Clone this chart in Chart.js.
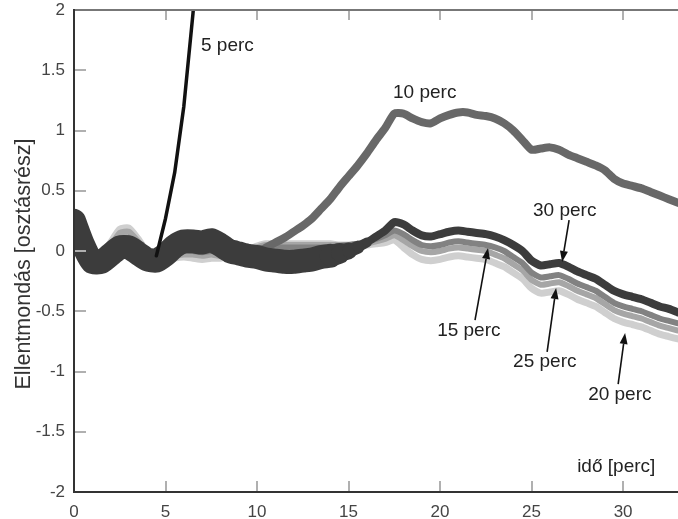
<!DOCTYPE html>
<html>
<head>
<meta charset="utf-8">
<script src="https://cdn.jsdelivr.net/npm/chart.js@4.4.1/dist/chart.umd.min.js"></script>
<style>
html,body{margin:0;padding:0;background:#fff;}
#wrap{width:678px;height:519px;position:relative;}
</style>
</head>
<body>
<div id="wrap"><canvas id="c" width="678" height="519"></canvas></div>
<script>
// time axis (perc)
const times = [0,0.5,1,1.5,2,2.5,3,3.5,4,4.5,5,5.5,6,6.5,7,7.5,8,8.5,9,9.5,10,10.5,11,11.5,12,12.5,13,13.5,14,14.5,15,15.5,16,16.5,17,17.5,18,18.5,19,19.5,20,20.5,21,21.5,22,22.5,23,23.5,24,24.5,25,25.5,26,26.5,27,27.5,28,28.5,29,29.5,30,30.5,31,31.5,32,32.5,33];

const perc30 = [0.25,0.05,-0.09,-0.09,-0.03,0.03,0.03,-0.02,-0.07,-0.08,-0.03,0.04,0.08,0.08,0.07,0.09,0.05,0.0,-0.02,-0.04,-0.05,-0.07,-0.08,-0.09,-0.09,-0.08,-0.07,-0.05,-0.04,-0.02,0.0,0.03,0.07,0.12,0.17,0.24,0.22,0.17,0.13,0.12,0.14,0.16,0.17,0.16,0.15,0.14,0.12,0.09,0.05,0.0,-0.08,-0.12,-0.11,-0.1,-0.13,-0.17,-0.2,-0.23,-0.28,-0.33,-0.36,-0.38,-0.4,-0.43,-0.46,-0.48,-0.51];

const perc15 = [0.27,0.07,-0.07,-0.07,0.0,0.1,0.11,0.04,-0.04,-0.07,-0.05,-0.02,0.0,0.0,-0.01,0.0,-0.01,-0.02,-0.02,-0.01,0.02,0.03,0.03,0.03,0.03,0.03,0.03,0.03,0.03,0.04,0.05,0.06,0.08,0.1,0.13,0.17,0.14,0.09,0.05,0.04,0.05,0.07,0.08,0.07,0.06,0.05,0.03,0.0,-0.05,-0.1,-0.18,-0.22,-0.21,-0.2,-0.23,-0.27,-0.3,-0.33,-0.38,-0.43,-0.46,-0.48,-0.5,-0.53,-0.56,-0.58,-0.6];

const perc25 = [0.26,0.09,-0.05,-0.05,0.04,0.15,0.16,0.08,-0.02,-0.08,-0.07,-0.04,-0.03,-0.03,-0.04,-0.03,-0.04,-0.03,-0.02,0.0,0.03,0.05,0.05,0.05,0.05,0.05,0.05,0.05,0.05,0.05,0.05,0.05,0.06,0.08,0.1,0.13,0.09,0.04,0.0,-0.01,0.0,0.02,0.03,0.02,0.01,0.0,-0.03,-0.06,-0.11,-0.16,-0.24,-0.28,-0.27,-0.26,-0.29,-0.33,-0.36,-0.39,-0.44,-0.49,-0.52,-0.54,-0.56,-0.59,-0.62,-0.64,-0.66];

const perc20 = [0.25,0.11,-0.03,-0.03,0.07,0.18,0.19,0.1,-0.01,-0.09,-0.09,-0.06,-0.05,-0.06,-0.07,-0.06,-0.06,-0.04,-0.02,0.01,0.04,0.06,0.06,0.06,0.06,0.06,0.06,0.06,0.06,0.05,0.05,0.05,0.05,0.06,0.07,0.09,0.03,-0.03,-0.07,-0.08,-0.07,-0.05,-0.04,-0.05,-0.06,-0.07,-0.1,-0.13,-0.18,-0.23,-0.31,-0.35,-0.34,-0.33,-0.36,-0.4,-0.43,-0.46,-0.51,-0.56,-0.59,-0.61,-0.63,-0.66,-0.69,-0.71,-0.73];

const perc10 = [0.25,0.05,-0.09,-0.09,-0.03,0.03,0.03,-0.02,-0.07,-0.08,-0.03,0.04,0.08,0.08,0.07,0.09,0.05,0.0,-0.02,-0.04,-0.03,0.03,0.07,0.11,0.16,0.21,0.27,0.35,0.43,0.53,0.62,0.71,0.81,0.92,1.02,1.14,1.14,1.1,1.07,1.06,1.1,1.13,1.15,1.15,1.13,1.12,1.1,1.06,1.0,0.92,0.84,0.85,0.86,0.84,0.8,0.77,0.74,0.71,0.67,0.6,0.56,0.54,0.52,0.49,0.46,0.43,0.4];

const perc5 = [null,null,null,null,null,null,null,null,null,-0.04,0.27,0.65,1.2,1.97,2.9,null,null,null,null,null,null,null,null,null,null,null,null,null,null,null,null,null,null,null,null,null,null,null,null,null,null,null,null,null,null,null,null,null,null,null,null,null,null,null,null,null,null,null,null,null,null,null,null,null,null,null,null];

const xTicks = [0,5,10,15,20,25,30];
const yTicks = [-2,-1.5,-1,-0.5,0,0.5,1,1.5,2];

const notes = [
  {text:'5 perc',  x:6.94,  y:1.66},
  {text:'10 perc', x:17.43, y:1.266},
  {text:'30 perc', x:25.08, y:0.29,   from:[27.05,0.257],  to:[26.67,-0.091]},
  {text:'15 perc', x:19.84, y:-0.705, from:[21.91,-0.573], to:[22.62,0.025]},
  {text:'25 perc', x:23.99, y:-0.963, from:[25.85,-0.838], to:[26.34,-0.307]},
  {text:'20 perc', x:28.09, y:-1.237, from:[29.73,-1.104], to:[30.11,-0.68]},
  {text:'idő [perc]', x:27.49, y:-1.834}
];
const yTitle = 'Ellentmondás [osztásrész]';

const pts = arr => times.map((t,i)=>({x:t,y:arr[i]}));
const FONT = '"Liberation Sans", Arial, sans-serif';

// width of the noisy dark band: wide while all runs overlap, narrowing after ~14 perc
const bandWidth = t => t < 14 ? 24 : t < 14.5 ? 21 : t < 15 ? 17 : t < 15.5 ? 13 : t < 16 ? 10 : 8;

const framePlugin = {
  id:'frame',
  afterDatasetsDraw(chart){
    const {ctx, chartArea:a, scales:{x,y}} = chart;
    ctx.save();
    ctx.strokeStyle = '#b0b0b0';
    ctx.lineWidth = 2;
    xTicks.forEach(v=>{
      const px = Math.round(x.getPixelForValue(v));
      if (v===0) return;
      ctx.beginPath(); ctx.moveTo(px,a.bottom); ctx.lineTo(px,a.bottom-11); ctx.stroke();
      ctx.beginPath(); ctx.moveTo(px,a.top); ctx.lineTo(px,a.top+10); ctx.stroke();
    });
    yTicks.forEach(v=>{
      const py = Math.round(y.getPixelForValue(v));
      if (v===-2 || v===2) return;
      ctx.beginPath(); ctx.moveTo(a.left,py); ctx.lineTo(a.left+12,py); ctx.stroke();
    });
    ctx.lineWidth = 2;
    ctx.strokeStyle = '#777';
    ctx.beginPath(); ctx.moveTo(a.left,a.top); ctx.lineTo(a.right,a.top); ctx.stroke();
    ctx.strokeStyle = '#333';
    ctx.beginPath(); ctx.moveTo(a.left,a.top-1); ctx.lineTo(a.left,a.bottom); ctx.lineTo(a.right,a.bottom); ctx.stroke();
    ctx.fillStyle = '#222';
    ctx.strokeStyle = '#111';
    ctx.font = '19px ' + FONT;
    ctx.textBaseline = 'alphabetic';
    ctx.textAlign = 'left';
    notes.forEach(n=>{
      ctx.fillText(n.text, x.getPixelForValue(n.x), y.getPixelForValue(n.y));
      if (n.from){
        const x0 = x.getPixelForValue(n.from[0]), y0 = y.getPixelForValue(n.from[1]);
        const x1 = x.getPixelForValue(n.to[0]),   y1 = y.getPixelForValue(n.to[1]);
        const ang = Math.atan2(y1-y0, x1-x0);
        const hl = 11, hw = 4;
        const bx = x1 - hl*Math.cos(ang), by = y1 - hl*Math.sin(ang);
        ctx.lineWidth = 1.6;
        ctx.beginPath(); ctx.moveTo(x0,y0); ctx.lineTo(bx,by); ctx.stroke();
        ctx.beginPath();
        ctx.moveTo(x1,y1);
        ctx.lineTo(bx + hw*Math.sin(ang), by - hw*Math.cos(ang));
        ctx.lineTo(bx - hw*Math.sin(ang), by + hw*Math.cos(ang));
        ctx.closePath(); ctx.fillStyle='#111'; ctx.fill();
        ctx.fillStyle = '#222';
      }
    });
    ctx.save();
    ctx.translate(24, (a.top+a.bottom)/2 + 13);
    ctx.rotate(-Math.PI/2);
    ctx.textAlign = 'center';
    ctx.textBaseline = 'middle';
    ctx.font = '21.5px ' + FONT;
    ctx.fillStyle = '#333';
    ctx.fillText(yTitle, 0, 0);
    ctx.restore();
    ctx.restore();
  }
};

const ds = (label, arr, color, width, order, extra) => Object.assign({
  label, data: pts(arr), borderColor: color, backgroundColor: color,
  borderWidth: width, pointRadius: 0, tension: 0.2, fill: false, order,
  borderCapStyle:'round', borderJoinStyle:'round', clip: 0
}, extra||{});

new Chart(document.getElementById('c'), {
  type: 'line',
  data: {
    datasets: [
      ds('5 perc', perc5, '#111111', 3.5, 0, {tension:0}),
      ds('30 perc', perc30, '#3c3c3c', 8, 1, {segment:{borderWidth: c => bandWidth(c.p0.parsed.x)}}),
      ds('10 perc', perc10, '#686868', 8, 2),
      ds('15 perc', perc15, '#828282', 6, 3),
      ds('25 perc', perc25, '#a6a6a6', 6, 4),
      ds('20 perc', perc20, '#cfcfcf', 7, 5)
    ]
  },
  options: {
    responsive: false,
    animation: false,
    events: [],
    layout: { padding: { top: 10, right: 0, left: 0, bottom: 0 } },
    plugins: { legend: { display: false }, tooltip: { enabled: false } },
    scales: {
      x: {
        type: 'linear', min: 0, max: 33,
        grid: { display: false, drawTicks: false },
        border: { display: false },
        afterBuildTicks: s => { s.ticks = xTicks.map(v=>({value:v})); },
        afterFit: s => { s.height = 27; s.paddingLeft = 0; s.paddingRight = 0; },
        ticks: { includeBounds: false, padding: 10, color: '#444', font: { family: FONT, size: 17 }, maxRotation: 0 }
      },
      y: {
        type: 'linear', min: -2, max: 2,
        grid: { display: false, drawTicks: false },
        border: { display: false },
        afterBuildTicks: s => { s.ticks = yTicks.map(v=>({value:v})); },
        afterFit: s => { s.width = 74; s.paddingTop = 0; s.paddingBottom = 0; },
        ticks: { padding: 9, color: '#444', font: { family: FONT, size: 17 },
          callback: v => String(v) }
      }
    }
  },
  plugins: [framePlugin]
});
</script>
</body>
</html>
